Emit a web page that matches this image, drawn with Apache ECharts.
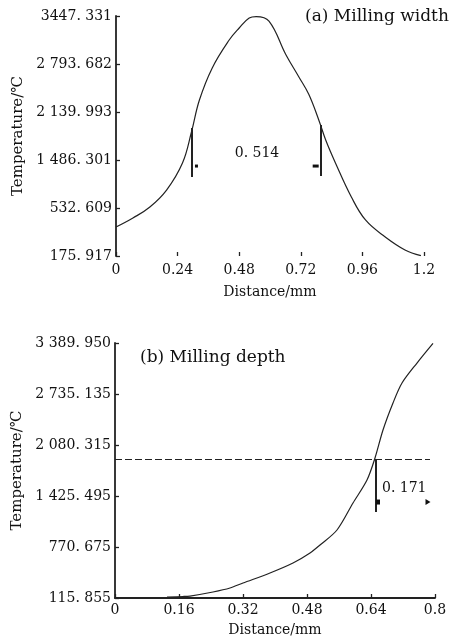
<!DOCTYPE html>
<html><head><meta charset="utf-8">
<script src="https://cdn.jsdelivr.net/npm/echarts@6/dist/echarts.min.js"></script>
<style>html,body{margin:0;padding:0;background:#fff}#c{width:451px;height:642px}</style>
</head><body><div id="c"></div>
<script>
// ---- (a) Milling width ----
const widthX = [0, 0.066, 0.132, 0.197, 0.259, 0.294, 0.325, 0.375, 0.441, 0.480, 0.519, 0.546, 0.596, 0.662, 0.712, 0.751, 0.790, 0.817, 0.855, 0.917, 0.972, 1.049, 1.126, 1.188];
const widthTemp = [571, 694, 844, 1075, 1444, 1866, 2302, 2740, 3120, 3284, 3420, 3440, 3379, 2920, 2620, 2380, 2030, 1757, 1444, 980, 667, 435, 258, 180];
const xTicksTop = [0, 0.24, 0.48, 0.72, 0.96, 1.2];
const xLabelsTop = ['0', '0.24', '0.48', '0.72', '0.96', '1.2'];
const yTicksTop = [175.917, 830.2, 1484.5, 2138.8, 2793.0, 3447.331];
const yLabelsTop = ['175. 917', '532. 609', '1 486. 301', '2 139. 993', '2 793. 682', '3447. 331'];
const widthMarkX = [0.294, 0.797];
const widthMarkLow = [1252, 1266];
const widthMarkHigh = [1920, 1961];

// ---- (b) Milling depth ----
const depthX = [0.13, 0.17, 0.1875, 0.245, 0.2875, 0.32, 0.3875, 0.445, 0.4875, 0.5125, 0.555, 0.595, 0.63, 0.65, 0.67, 0.695, 0.7175, 0.755, 0.795];
const depthTemp = [129, 135, 141, 193, 244, 308, 437, 565, 694, 796, 989, 1336, 1631, 1913, 2273, 2620, 2876, 3133, 3385];
const xTicksBot = [0, 0.16, 0.32, 0.48, 0.64, 0.8];
const xLabelsBot = ['0', '0.16', '0.32', '0.48', '0.64', '0.8'];
const yTicksBot = [115.855, 770.675, 1425.495, 2080.315, 2735.135, 3389.95];
const yLabelsBot = ['115. 855', '770. 675', '1 425. 495', '2 080. 315', '2 735. 135', '3 389. 950'];
const depthLevel = 1900;
const depthLevelEnd = 0.7875;
const depthMarkX = 0.6525;
const depthMarkLow = 1220;

const FONT = 'DejaVu Serif';
function lab(ticks, labels) {
  return function (v) {
    let b = 0;
    for (let i = 1; i < ticks.length; i++) if (Math.abs(ticks[i] - v) < Math.abs(ticks[b] - v)) b = i;
    return labels[b];
  };
}
const axisLine = { show: true, lineStyle: { color: '#222', width: 1.8 } };
const tick = { show: true, inside: true, length: 4, lineStyle: { color: '#222', width: 1.3 } };
const lblStyle = { color: '#111', fontFamily: FONT, fontSize: 14 };

const chart = echarts.init(document.getElementById('c'));
chart.setOption({
  animation: false,
  grid: [
    { left: 116, top: 16, width: 308, height: 240 },
    { left: 115, top: 343, width: 320, height: 255 }
  ],
  xAxis: [
    { type: 'value', gridIndex: 0, min: 0, max: 1.2, splitLine: { show: false },
      axisLine: { show: false }, axisTick: Object.assign({}, tick, { customValues: xTicksTop }),
      axisLabel: Object.assign({}, lblStyle, { margin: 7, customValues: xTicksTop, formatter: lab(xTicksTop, xLabelsTop) }),
      name: 'Distance/mm', nameLocation: 'middle', nameGap: 29,
      nameTextStyle: { color: '#111', fontFamily: FONT, fontSize: 14 } },
    { type: 'value', gridIndex: 1, min: 0, max: 0.8, splitLine: { show: false },
      axisLine: axisLine, axisTick: Object.assign({}, tick, { customValues: xTicksBot }),
      axisLabel: Object.assign({}, lblStyle, { margin: 5, customValues: xTicksBot, formatter: lab(xTicksBot, xLabelsBot) }),
      name: 'Distance/mm', nameLocation: 'middle', nameGap: 25,
      nameTextStyle: { color: '#111', fontFamily: FONT, fontSize: 14 } }
  ],
  yAxis: [
    { type: 'value', gridIndex: 0, min: 175.917, max: 3447.331, splitLine: { show: false },
      axisLine: axisLine, axisTick: Object.assign({}, tick, { customValues: yTicksTop }),
      axisLabel: Object.assign({}, lblStyle, { margin: 4, customValues: yTicksTop, formatter: lab(yTicksTop, yLabelsTop) }),
      name: 'Temperature/℃', nameLocation: 'middle', nameGap: 86, nameRotate: 90,
      nameTextStyle: { color: '#111', fontFamily: FONT, fontSize: 15 } },
    { type: 'value', gridIndex: 1, min: 115.855, max: 3389.95, splitLine: { show: false },
      axisLine: axisLine, axisTick: Object.assign({}, tick, { customValues: yTicksBot }),
      axisLabel: Object.assign({}, lblStyle, { margin: 4, customValues: yTicksBot, formatter: lab(yTicksBot, yLabelsBot) }),
      name: 'Temperature/℃', nameLocation: 'middle', nameGap: 86, nameRotate: 90,
      nameTextStyle: { color: '#111', fontFamily: FONT, fontSize: 15 } }
  ],
  series: [
    { type: 'line', xAxisIndex: 0, yAxisIndex: 0, showSymbol: false, smooth: 0.4,
      data: widthX.map((x, i) => [x, widthTemp[i]]),
      lineStyle: { color: '#222', width: 1.2 },
      markLine: { silent: true, symbol: 'none', animation: false, label: { show: false },
        lineStyle: { color: '#222', width: 2, type: 'solid' },
        data: widthMarkX.map((x, i) => [{ coord: [x, widthMarkLow[i]] }, { coord: [x, widthMarkHigh[i]] }]) },
      markPoint: { silent: true, label: { show: false }, itemStyle: { color: '#111' },
        data: [
          { coord: [0.3135, 1402], symbol: 'rect', symbolSize: [3, 3] },
          { coord: [0.778, 1402], symbol: 'rect', symbolSize: [6, 3] }
        ] } },
    { type: 'line', xAxisIndex: 1, yAxisIndex: 1, showSymbol: false, smooth: 0.3,
      data: depthX.map((x, i) => [x, depthTemp[i]]),
      lineStyle: { color: '#222', width: 1.2 },
      markLine: { silent: true, symbol: 'none', animation: false, label: { show: false },
        data: [
          [{ coord: [0, depthLevel], lineStyle: { color: '#222', width: 1.2, type: [7, 3] } }, { coord: [depthLevelEnd, depthLevel] }],
          [{ coord: [depthMarkX, depthLevel], lineStyle: { color: '#222', width: 2, type: 'solid' } }, { coord: [depthMarkX, depthMarkLow] }]
        ] },
      markPoint: { silent: true, label: { show: false }, itemStyle: { color: '#111' },
        data: [
          { coord: [0.6575, 1348], symbol: 'rect', symbolSize: [4, 5] },
          { coord: [0.7825, 1348], symbol: 'triangle', symbolRotate: -90, symbolSize: [6, 5] }
        ] } }
  ],
  graphic: [
    { type: 'text', left: 305, top: 8, style: { text: '(a) Milling width', font: '17px "DejaVu Serif"', fill: '#111' } },
    { type: 'text', left: 140, top: 349, style: { text: '(b) Milling depth', font: '17px "DejaVu Serif"', fill: '#111' } },
    { type: 'text', x: 257, y: 153, style: { text: '0. 514', font: '14px "DejaVu Serif"', fill: '#111', align: 'center', verticalAlign: 'middle' } },
    { type: 'text', x: 382, y: 488, style: { text: '0. 171', font: '14px "DejaVu Serif"', fill: '#111', align: 'left', verticalAlign: 'middle' } }
  ]
});
</script></body></html>
